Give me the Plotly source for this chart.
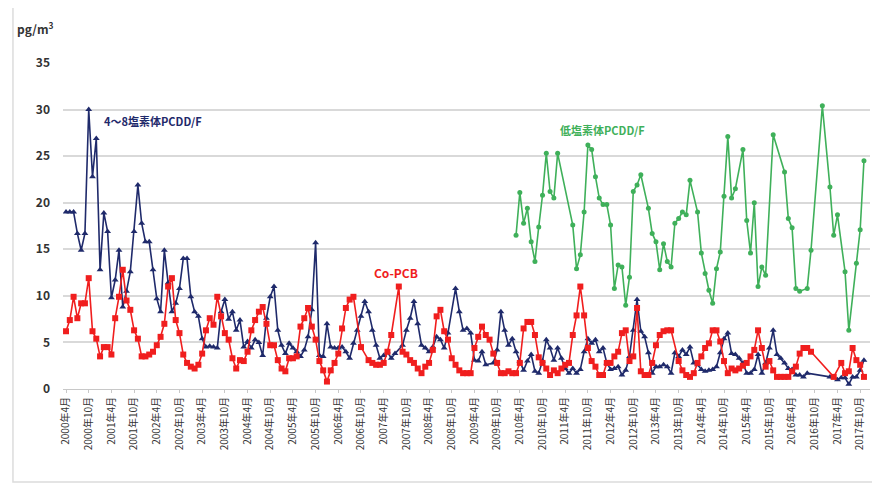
import plotly.graph_objects as go

# Months: 2000年4月 ... (monthly categories)
n_months = 213
months = [f"{2000 + (3 + i) // 12}年{(3 + i) % 12 + 1}月" for i in range(n_months)]
tick_idx = list(range(0, 211, 6))
tick_labels = [months[i] for i in tick_idx]

N = None
# 4～8塩素体PCDD/F (pg/m3), month index 0 = 2000年4月
pcdd_48 = [
    19.0, 19.0, 19.0, 16.7, 14.9, 16.7, 30.0, 22.8, 26.9, 12.8,   # 0-9
    18.9, 16.9, 9.8, 11.7, 14.9, 8.8, 10.5, 12.6, 16.9, 21.9,     # 10-19
    17.8, 15.8, 15.8, 12.8, 9.7, 8.3, 14.9, 11.4, 8.3, 9.2,       # 20-29
    10.8, 14.0, 14.0, 9.9, 8.3, 7.8, 5.4, 4.5, 4.6, 4.5,          # 30-39
    4.4, 8.3, 9.6, 7.5, 8.3, 6.3, 7.4, 4.5, 5.1, 4.4,             # 40-49
    5.3, 5.0, 3.6, 7.6, 9.9, 11.0, 6.3, 4.7, 3.8, 4.9,            # 50-59
    4.4, 4.0, 3.5, 4.2, 5.6, 8.5, 15.7, 3.6, 3.5, 7.0,            # 60-69
    4.5, 4.4, 4.4, 4.5, 4.0, 3.3, 4.9, 6.3, 7.8, 9.4,             # 70-79
    8.3, 6.3, 4.7, 3.3, 3.6, 4.0, 3.3, 3.8, N, 4.7,               # 80-89
    6.3, 7.6, 9.4, 7.0, 4.7, 4.4, 4.0, 4.5, 5.6, 5.3,             # 90-99
    4.4, 6.0, N, 10.8, 8.3, 6.3, 6.5, 6.0, 3.1, 3.0,              # 100-109
    4.0, 2.6, N, 2.8, 4.2, 8.3, 6.3, 4.7, 5.4, 4.0,               # 110-119
    3.0, 2.0, 3.0, 3.7, 1.9, 1.7, 3.0, 5.3, 4.4, 3.1,             # 120-129
    4.4, 3.3, 2.2, 1.7, 2.2, 1.7, 2.1, 4.0, 5.4, 4.9,             # 130-139
    5.3, 4.0, 4.4, 2.8, 2.1, 2.2, 2.4, 1.5, 2.0, 3.5,             # 140-149
    6.3, 9.6, 6.2, 5.6, 3.9, 1.7, 2.4, 2.4, 2.6, 2.4,             # 150-159
    1.7, 3.9, 3.5, 4.2, 3.7, 4.5, 2.8, 2.6, 2.1, 1.9,             # 160-169
    2.0, 2.1, 2.4, 3.9, 5.4, 6.0, 3.8, 3.7, 3.3, 2.8,             # 170-179
    1.7, 1.7, 2.1, 3.7, 1.7, 2.8, 4.4, 6.3, 3.7, 3.3,             # 180-189
    2.8, 2.2, 2.1, 1.5, 1.5, 1.3, 1.7, N, N, N,                   # 190-199
    N, N, 1.3, 1.3, 1.0, 1.2, 1.2, 0.5, 1.3, 1.3,                 # 200-209
    2.0, 3.1, N,                                                  # 210-212
]

# Co-PCB (pg/m3)
co_pcb = [
    6.2, 7.4, 9.9, 7.6, 9.2, 9.2, 11.9, 6.2, 5.4, 3.5,            # 0-9
    4.5, 4.5, 3.7, 7.6, 9.9, 12.8, 9.5, 8.5, 6.3, 5.4,            # 10-19
    3.5, 3.5, 3.7, 4.0, 4.7, 5.6, 7.0, 11.0, 11.9, 7.4,           # 20-29
    6.0, 3.7, 2.8, 2.4, 2.2, 2.6, 3.8, 6.3, 7.6, 6.9,             # 30-39
    9.9, 7.8, 6.0, 5.3, 3.3, 2.2, 3.1, 3.0, 4.0, 6.3,             # 40-49
    7.4, 8.3, 8.8, 7.0, 4.7, 4.7, 3.1, 2.2, 1.9, 3.3,             # 50-59
    3.3, 3.5, 6.7, 7.6, 8.7, 6.7, 5.3, 3.0, 2.0, 0.8,             # 60-69
    2.0, 2.8, 3.8, 6.5, 8.7, 9.6, 9.9, N, 4.5, N,                 # 70-79
    3.1, 2.8, 2.6, 2.6, 2.8, 4.0, 5.8, N, 11.0, 4.0,              # 80-89
    3.7, 3.1, 2.8, 2.2, 1.7, 2.4, 2.8, 4.2, 7.8, 8.5,             # 90-99
    6.2, 5.3, 3.3, 2.6, 2.0, 1.7, 1.7, 1.7, 4.4, 5.6,             # 100-109
    6.7, 5.8, 5.3, 3.8, 2.8, 1.7, 1.7, 1.9, 1.7, 1.7,             # 110-119
    2.8, 6.5, 7.2, 7.2, 5.8, 3.4, 2.8, 2.2, 1.5, 2.0,             # 120-129
    1.7, 2.2, 2.6, 2.8, 5.8, 7.9, 11.0, 7.9, 4.4, 3.0,            # 130-139
    2.4, 1.5, 1.5, 2.8, 2.8, 3.5, 4.0, 6.0, 6.3, 3.0,             # 140-149
    3.5, 8.7, 1.9, 1.5, 1.5, 2.8, 4.7, 5.8, 6.2, 6.3,             # 150-159
    6.3, N, 3.0, 2.0, 1.5, 1.3, 1.7, 2.8, 3.5, 4.4,               # 160-169
    4.9, 6.3, 6.3, 5.1, 3.0, 1.7, 2.2, 2.0, 2.2, 2.5,             # 170-179
    2.8, 3.5, 4.2, 6.3, 4.4, 2.4, 3.0, 2.0, 1.3, 1.3,             # 180-189
    1.3, 1.3, 1.9, 2.4, 3.8, 4.4, 4.4, 4.0, N, N,                 # 190-199
    N, N, N, 1.3, N, 2.8, 1.7, 1.9, 4.4, 3.1,                     # 200-209
    2.6, 1.3, N,                                                  # 210-212
]

# 低塩素体PCDD/F (pg/m3): measured months (index) and values
low_idx = [119, 120, 121, 122, 123, 124, 125, 126, 127, 128, 129, 130,
           134, 135, 136, 137, 138, 139, 140, 141, 142, 143, 144, 145,
           146, 147, 148, 149, 150, 151, 152, 154, 155, 156, 157, 158,
           159, 160, 161, 162, 163, 164, 165, 167, 168, 169, 170, 171,
           172, 173, 174, 175, 176, 177, 179, 180, 181, 182, 183, 184,
           185, 187, 190, 191, 192, 193, 194, 196, 197, 200, 202, 203,
           204, 206, 207, 209, 210, 211]
low_val = [16.5, 21.1, 17.8, 19.4, 15.8, 13.7, 17.4, 20.8, 25.3, 21.2, 20.5, 25.3,
           17.6, 12.9, 14.4, 19.0, 26.2, 25.7, 22.8, 20.5, 19.8, 19.8, 17.6, 10.8,
           13.3, 13.1, 9.0, 12.0, 21.2, 21.9, 23.0, 19.4, 16.7, 15.8, 12.8, 15.6,
           13.7, 13.1, 17.8, 18.3, 19.0, 18.7, 22.4, 19.0, 14.6, 12.4, 10.6, 9.2,
           12.9, 14.7, 20.7, 27.1, 20.5, 21.5, 25.7, 18.1, 14.6, 20.0, 11.0, 13.1,
           12.2, 27.3, 23.3, 18.3, 17.3, 10.8, 10.5, 10.8, 14.9, 30.4, 21.7, 16.5,
           18.7, 12.6, 6.3, 13.5, 17.1, 24.5]

BLUE = "#1f2a6b"
RED = "#f01e1e"
GREEN = "#3fb05a"
FONT = "Noto Sans CJK JP, Noto Sans, sans-serif"

x_all = list(range(n_months))

fig = go.Figure()
fig.add_trace(go.Scatter(
    x=x_all, y=pcdd_48, mode="lines+markers", connectgaps=True,
    line=dict(color=BLUE, width=1.6),
    marker=dict(symbol="triangle-up", size=6, color=BLUE),
    name="4～8塩素体PCDD/F", showlegend=False))
fig.add_trace(go.Scatter(
    x=x_all, y=co_pcb, mode="lines+markers", connectgaps=True,
    line=dict(color=RED, width=1.6),
    marker=dict(symbol="square", size=6, color=RED),
    name="Co-PCB", showlegend=False))
fig.add_trace(go.Scatter(
    x=low_idx, y=low_val, mode="lines+markers",
    line=dict(color=GREEN, width=1.6),
    marker=dict(symbol="circle", size=5, color=GREEN),
    name="低塩素体PCDD/F", showlegend=False))

# The page adds an 8px body margin, so the figure is sized to fit the window.
fig.update_layout(
    width=872, height=485,
    margin=dict(l=55, r=10, t=55, b=104),
    paper_bgcolor="white", plot_bgcolor="white",
    font=dict(family=FONT, color="#333333"),
    xaxis=dict(
        automargin=False,
        range=[-0.8, 212.6],
        tickmode="array", tickvals=tick_idx, ticktext=tick_labels,
        tickangle=-90, tickfont=dict(size=10, color="#333333"),
        showgrid=False, showline=True, linecolor="#c8c8c8", linewidth=1,
        ticks="outside", ticklen=3, tickcolor="#c8c8c8", zeroline=False,
    ),
    yaxis=dict(
        automargin=False,
        range=[0, 35], tickvals=[0, 5, 10, 15, 20, 25, 30, 35],
        ticktext=["<b>0</b>", "<b>5</b>", "<b>10</b>", "<b>15</b>", "<b>20</b>",
                  "<b>25</b>", "<b>30</b>", "<b>35</b>"],
        tickfont=dict(size=12, color="#333333"),
        showgrid=True, gridcolor="#d9d9d9", gridwidth=1.5,
        showline=False, zeroline=False, ticks="", ticklabelstandoff=12,
    ),
    shapes=[
        dict(type="rect", xref="paper", yref="paper",
             x0=-0.062, x1=1.006, y0=-0.285, y1=1.172,
             line=dict(color="#dcdcdc", width=1.5), fillcolor="rgba(0,0,0,0)",
             layer="below"),
    ],
    annotations=[
        dict(text="<b>pg/m<sup>3</sup></b>", xref="paper", yref="paper",
             x=-0.06, y=1.075, xanchor="left", yanchor="bottom", showarrow=False,
             font=dict(size=12, color="#333333")),
        dict(text="<b>4～8塩素体PCDD/F</b>", xref="x", yref="y", x=9.5, y=28.8,
             xanchor="left", yanchor="middle", showarrow=False,
             font=dict(size=11, color=BLUE)),
        dict(text="<b>Co-PCB</b>", xref="x", yref="y", x=81, y=12.5,
             xanchor="left", yanchor="middle", showarrow=False,
             font=dict(size=12, color=RED)),
        dict(text="<b>低塩素体PCDD/F</b>", xref="x", yref="y", x=130, y=27.8,
             xanchor="left", yanchor="middle", showarrow=False,
             font=dict(size=11, color=GREEN)),
    ],
)

fig.write_html("out.html")
